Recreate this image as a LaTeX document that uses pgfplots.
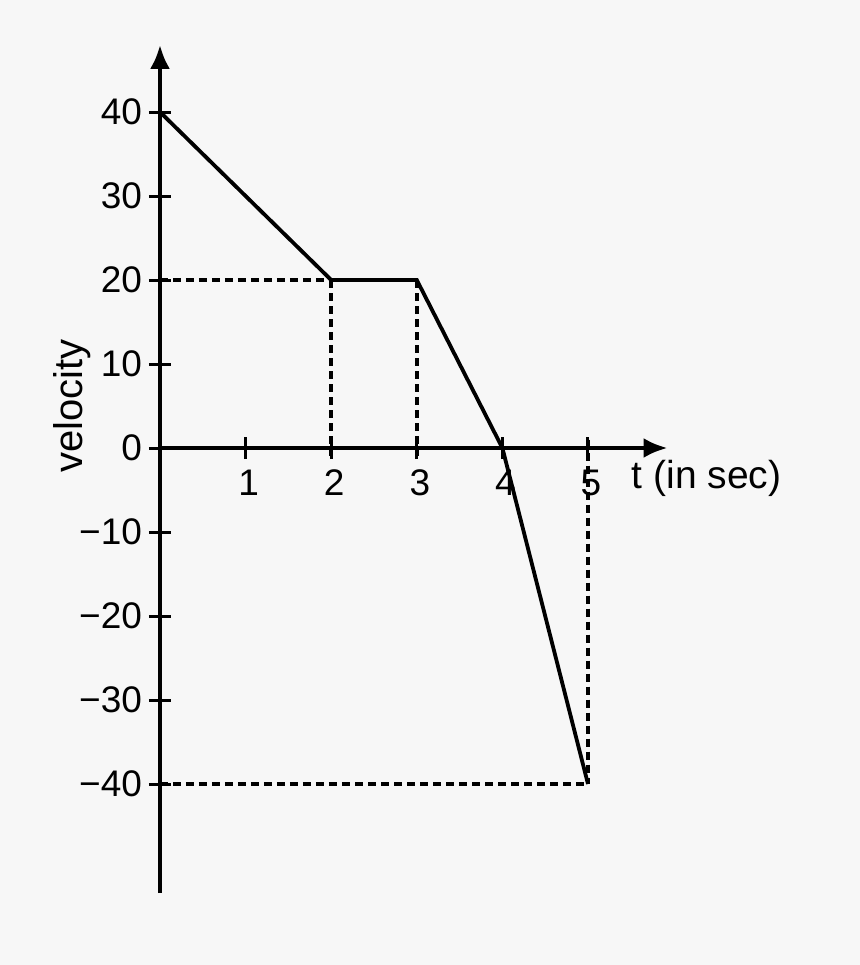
\documentclass[border=0pt]{standalone}
\usepackage{pgfplots}
\pgfplotsset{compat=1.18}
\usepackage{fontspec}
\setmainfont{Liberation Sans}
\usetikzlibrary{arrows.meta}
\begin{document}
\begin{tikzpicture}
\fill[black!3, use as bounding box] (-80pt,-258.5pt) rectangle (350pt,224pt);
\begin{axis}[
  anchor=origin, at={(0pt,0pt)},
  x=42.8pt, y=4.2pt,
  xmin=0, xmax=5.93, ymin=-53, ymax=48,
  axis lines=middle,
  axis line style={line width=2.2pt},
  x axis line style={-{Latex[length=12pt,width=10pt]}},
  y axis line style={-{Latex[length=12pt,width=10pt]}},
  hide obscured y ticks=false,
  xtick={1,2,3,4,5},
  ytick={-40,-30,-20,-10,0,10,20,30,40},
  yticklabels={−40,−30,−20,−10,0,10,20,30,40},
  xticklabels={1,2,3,4,5},
  tick align=center,
  major tick length=11pt,
  tick style={line width=1.5pt, black},
  ticklabel style={font=\fontsize{18.5}{22}\selectfont},
  yticklabel style={anchor=east, xshift=0pt},
  xticklabel style={anchor=north, xshift=1.5pt, yshift=-2pt},
  clip=false,
  /pgf/number format/assume math mode=true,
]
\addplot[black, line width=1.9pt] coordinates {(0,40) (2,20) (3,20) (4,0) (5,-40)};
\addplot[black, line width=2pt, dash pattern=on 4pt off 2.5pt] coordinates {(0,20) (2,20)};
\addplot[black, line width=2pt, dash pattern=on 4pt off 2.5pt] coordinates {(2,20) (2,-1)};
\addplot[black, line width=2pt, dash pattern=on 4pt off 2.5pt] coordinates {(3,20) (3,-1)};
\addplot[black, line width=2pt, dash pattern=on 4pt off 2.5pt] coordinates {(5,1) (5,-40)};
\addplot[black, line width=2pt, dash pattern=on 4pt off 2.5pt] coordinates {(0,-40) (5,-40)};
\node[anchor=west, font=\fontsize{19.5}{23}\selectfont] at (axis cs:5.43,-3.6) {t (in sec)};
\node[rotate=90, font=\fontsize{20}{24}\selectfont] at (axis cs:-1.03,5) {velocity};
\end{axis}
\end{tikzpicture}
\end{document}
